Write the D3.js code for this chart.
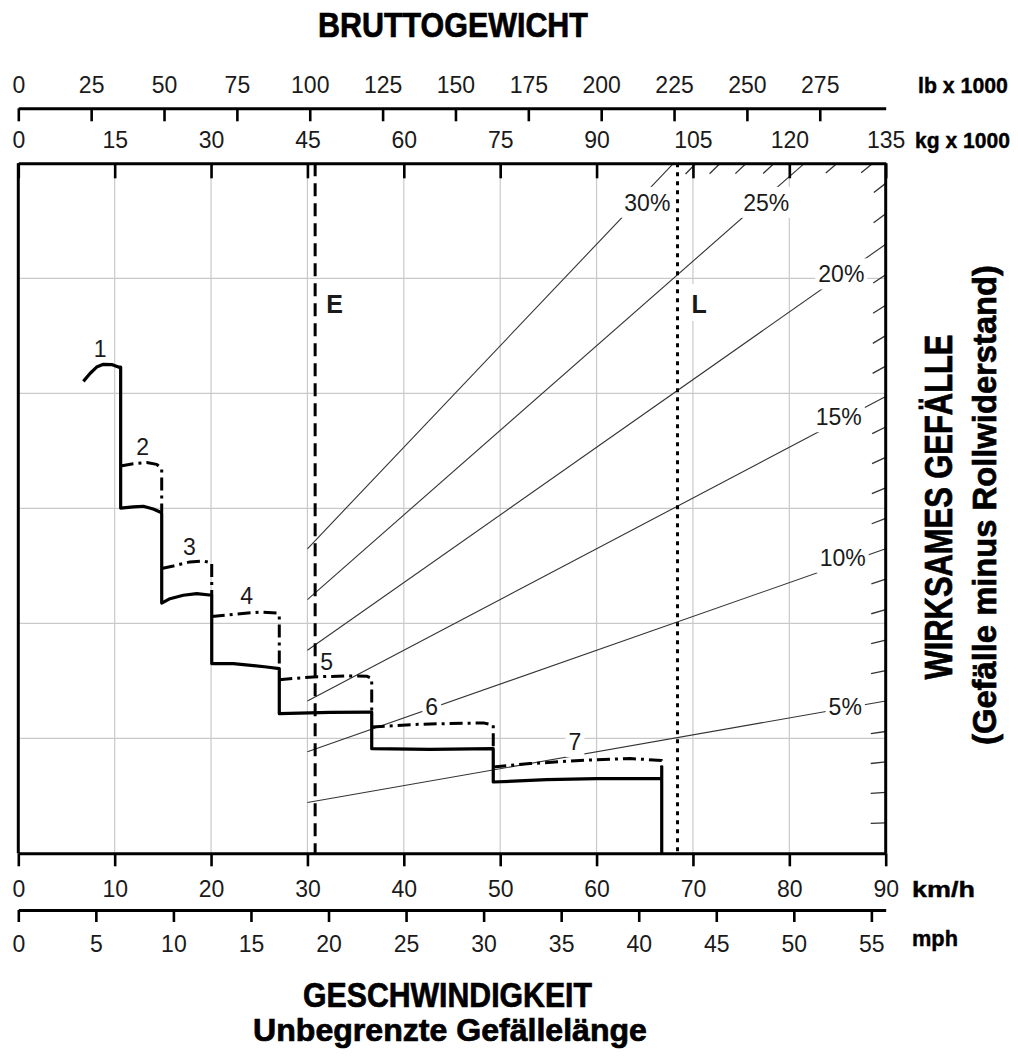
<!DOCTYPE html>
<html>
<head>
<meta charset="utf-8">
<script src="https://cdn.jsdelivr.net/npm/d3@7"></script>
<style>
  html, body { margin: 0; padding: 0; background: #fff; }
  svg { display: block; }
</style>
</head>
<body>
<svg id="chart" width="1018" height="1062"></svg>
<script>
// ---- Axis ticks ----
const lbTicks  = [0, 25, 50, 75, 100, 125, 150, 175, 200, 225, 250, 275];
const kgTicks  = [0, 15, 30, 45, 60, 75, 90, 105, 120, 135];
const kmhTicks = [0, 10, 20, 30, 40, 50, 60, 70, 80, 90];
const mphTicks = [0, 5, 10, 15, 20, 25, 30, 35, 40, 45, 50, 55];

// ---- Grid (speed in km/h, retarding force in kN) ----
const kmhGrid   = [10, 20, 30, 40, 50, 60, 70, 80];
const forceGrid = [50, 100, 150, 200, 250];

// ---- Effective grade lines (%) ----
const gradeLines  = [5, 10, 15, 20, 25, 30];
const hatchGrades = [1, 2, 3, 4, 6, 7, 8, 9, 11, 12, 13, 14, 16, 17, 18, 19, 21, 22, 23, 24, 26, 27, 28, 29];
const gradeStartWeight = 45;            // kg x 1000
// label anchors: [gross weight kg x1000, force kN]
const gradeLabelPos = [[128.7, 63.7], [128.3, 128.3], [127.7, 189.6], [128.1, 251.7], [116.4, 282.8], [97.9, 282.8]];

// ---- Empty / loaded gross weight (kg x 1000) ----
const emptyWeight  = 46.2;
const loadedWeight = 102.6;

// ---- Retarder performance: [km/h, kN] ----
const retardSolid = [
  [6.75, 205.2], [7.44, 208.6], [8.13, 211.4], [8.82, 212.6], [9.69, 212.5], [10.38, 211.4], [10.62, 211.4],
  [10.62, 150.1], [11.93, 150.6], [12.97, 150.9], [14.0, 149.7], [14.70, 148.4], [14.88, 147.9],
  [14.88, 108.8], [15.74, 110.7], [17.12, 112.2], [18.51, 112.9], [20.07, 112.2],
  [20.07, 82.5], [22.31, 82.5], [25.77, 81.0], [27.08, 80.3],
  [27.08, 60.7], [32.34, 61.3], [36.5, 61.4], [36.67, 61.4],
  [36.67, 45.5], [42.7, 45.2], [49.28, 45.5],
  [49.28, 31.0], [54.82, 32.0], [60.0, 32.5], [66.76, 32.5],
  [66.76, 37.5], [66.76, 0]
];
const gear2 = [[10.62, 168.4], [11.93, 169.4], [13.32, 169.9], [14.36, 169.1], [14.88, 167.3], [14.88, 148.4]];
const gear3 = [[14.88, 123.8], [16.08, 124.9], [17.81, 126.7], [19.2, 127.1], [20.07, 126.2], [20.07, 112.2]];
const gear4 = [[20.07, 103.0], [22.31, 103.9], [25.08, 104.9], [26.81, 104.5], [27.08, 103.5], [27.08, 80.3]];
const gear5 = [[27.08, 75.5], [30.61, 76.7], [34.07, 77.1], [36.15, 77.0], [36.67, 76.0], [36.67, 61.4]];
const gear6 = [[36.67, 54.9], [40.99, 56.0], [44.45, 56.4], [48.25, 56.7], [49.28, 55.7], [49.28, 45.5]];
const gear7 = [[49.28, 37.5], [53.09, 39.0], [58.28, 40.4], [63.47, 41.2], [66.76, 40.4], [66.76, 37.5]];
const gearLabels = [[8.48, 219.4, "1"], [12.9, 176.7, "2"], [17.74, 133.2, "3"], [23.7, 111.7, "4"],
                    [32.0, 83.2, "5"], [42.9, 63.6, "6"], [57.76, 48.4, "7"]];

// ---- Constants ----
const KMH_PER_MPH = 1.609344;
const LB_PER_KG = 2.20462;
const G = 9.807;
const FORCE_MAX = 300;

const plot = { left: 18.3, right: 885.7, top: 163.3, bottom: 853.3 };
const numFont = "'Liberation Sans', Arial, Helvetica, sans-serif";
const boldFont = "'Liberation Sans', Arial, Helvetica, sans-serif";

const svg = d3.select("#chart");

const xKmh = d3.scaleLinear().domain([0, 90]).range([plot.left, plot.right]);
const xMph = d3.scaleLinear().domain([0, 90 / KMH_PER_MPH]).range([plot.left, plot.right]);
const xKg  = d3.scaleLinear().domain([0, 135]).range([plot.left, plot.right]);
const xLb  = d3.scaleLinear().domain([0, 135 * LB_PER_KG]).range([plot.left, plot.right]);
const y    = d3.scaleLinear().domain([0, FORCE_MAX]).range([plot.bottom, plot.top]);

// retarding force needed to hold a gross weight on a grade
const force = (w, g) => w * g / 100 * G;
const edgeWeight = g => Math.min(135, FORCE_MAX / (g / 100 * G));

// ---- Grid ----
const grid = svg.append("g").attr("stroke", "#c9c9c9").attr("stroke-width", 1.2);
grid.selectAll("line.v").data(kmhGrid).join("line").attr("class", "v")
  .attr("x1", d => xKmh(d)).attr("x2", d => xKmh(d))
  .attr("y1", plot.top).attr("y2", plot.bottom);
grid.selectAll("line.h").data(forceGrid).join("line").attr("class", "h")
  .attr("x1", plot.left).attr("x2", plot.right)
  .attr("y1", d => y(d)).attr("y2", d => y(d));

// ---- Grade lines ----
const grades = svg.append("g").attr("stroke", "#333").attr("stroke-width", 1.1).attr("fill", "none");
grades.selectAll("line.main").data(gradeLines).join("line").attr("class", "main")
  .attr("x1", xKg(gradeStartWeight)).attr("y1", g => y(force(gradeStartWeight, g)))
  .attr("x2", g => xKg(edgeWeight(g))).attr("y2", g => y(force(edgeWeight(g), g)));

// short hatch marks where the intermediate grades meet the frame
const hatchLen = 15;
grades.selectAll("line.hatch").data(hatchGrades).join("line").attr("class", "hatch")
  .attr("stroke-width", 1.3)
  .each(function (g) {
    const we = edgeWeight(g);
    const px = xKg(we), py = y(force(we, g));
    const ox = xKg(0), oy = y(0);
    const len = Math.hypot(ox - px, oy - py);
    d3.select(this)
      .attr("x1", px).attr("y1", py)
      .attr("x2", px + (ox - px) / len * hatchLen)
      .attr("y2", py + (oy - py) / len * hatchLen);
  });

// ---- Labels with white backing ----
const labels = svg.append("g");
function label(x, yy, text, opts) {
  const o = Object.assign({ size: 23, weight: "normal", anchor: "middle", family: numFont, baseline: "central", padX: 3, padTop: 3, padBottom: 2 }, opts || {});
  const g = labels.append("g");
  const t = g.append("text")
    .attr("x", x).attr("y", yy)
    .attr("text-anchor", o.anchor)
    .attr("dominant-baseline", o.baseline)
    .attr("font-family", o.family)
    .attr("font-size", o.size)
    .attr("font-weight", o.weight)
    .attr("fill", "#1a1a1a")
    .text(text);
  const b = t.node().getBBox();
  g.insert("rect", "text")
    .attr("x", b.x - o.padX).attr("y", b.y - o.padTop)
    .attr("width", b.width + 2 * o.padX).attr("height", b.height + o.padTop + o.padBottom)
    .attr("fill", "#fff");
  return t;
}

gradeLines.forEach((g, i) => {
  const p = gradeLabelPos[i];
  label(xKg(p[0]), y(p[1]), g + "%");
});
gearLabels.forEach(d => label(xKmh(d[0]), y(d[1]), d[2]));
label(xKg(emptyWeight) + 11, y(234.9), "E", { anchor: "start", baseline: "auto", weight: "bold", size: 25, padTop: 6, padBottom: 3 });
label(xKg(loadedWeight) + 14, y(234.9), "L", { anchor: "start", baseline: "auto", weight: "bold", size: 25, padTop: 6, padBottom: 3 });

// ---- Empty (dashed) and loaded (dotted) weight lines ----
svg.append("line")
  .attr("x1", xKg(emptyWeight)).attr("x2", xKg(emptyWeight))
  .attr("y1", plot.top).attr("y2", plot.bottom)
  .attr("stroke", "#000").attr("stroke-width", 3).attr("stroke-dasharray", "13,7");
svg.append("line")
  .attr("x1", xKg(loadedWeight)).attr("x2", xKg(loadedWeight))
  .attr("y1", plot.top).attr("y2", plot.bottom)
  .attr("stroke", "#000").attr("stroke-width", 3).attr("stroke-dasharray", "4,5");

// ---- Retarder curves ----
const line = d3.line().x(d => xKmh(d[0])).y(d => y(d[1]));
const curves = svg.append("g").attr("fill", "none").attr("stroke", "#000")
  .attr("stroke-width", 3).attr("stroke-linejoin", "round");
curves.selectAll("path.dd").data([gear2, gear3, gear4, gear5, gear6, gear7]).join("path")
  .attr("class", "dd").attr("d", line).attr("stroke-dasharray", "13,5,3,5");
curves.append("path").datum(retardSolid).attr("d", line).attr("stroke-width", 3.2);

// ---- Frame ----
svg.append("g").attr("stroke", "#000").attr("stroke-width", 3)
  .selectAll("line").data([plot.left, plot.right]).join("line")
  .attr("x1", d => d).attr("x2", d => d).attr("y1", plot.top).attr("y2", plot.bottom);

// ---- Axes ----
function styleAxis(sel) {
  sel.attr("font-family", numFont).attr("font-size", 23);
  sel.select(".domain").attr("stroke", "#000").attr("stroke-width", 3);
  sel.selectAll(".tick line").attr("stroke", "#000").attr("stroke-width", 2.6);
  sel.selectAll(".tick text").attr("fill", "#1a1a1a");
}
svg.append("g").attr("transform", "translate(0,108.3)")
  .call(d3.axisTop(xLb).tickValues(lbTicks).tickSizeInner(-13).tickSizeOuter(0).tickPadding(15))
  .call(styleAxis);
svg.append("g").attr("transform", `translate(0,${plot.top})`)
  .call(d3.axisTop(xKg).tickValues(kgTicks).tickSizeInner(-15).tickSizeOuter(0).tickPadding(15))
  .call(styleAxis);
svg.append("g").attr("transform", `translate(0,${plot.bottom})`)
  .call(d3.axisBottom(xKmh).tickValues(kmhTicks).tickSizeInner(13).tickSizeOuter(0).tickPadding(14))
  .call(styleAxis);
svg.append("g").attr("transform", "translate(0,910)")
  .call(d3.axisBottom(xMph).tickValues(mphTicks).tickSizeInner(12).tickSizeOuter(0).tickPadding(14))
  .call(styleAxis);

// ---- Unit labels and titles (bold, horizontally condensed to a set width) ----
function condensed(sel) {
  sel.each(function (d) {
    const t = d3.select(this);
    const natural = this.getComputedTextLength();
    const sx = d.w / natural;
    t.attr("transform", `translate(${d.x},${d.y})${d.rot ? " rotate(-90)" : ""} scale(${sx},1)`);
  });
}
const units = [
  { x: 918, y: 93, t: "lb x 1000", w: 90 },
  { x: 915, y: 148, t: "kg x 1000", w: 95 },
  { x: 912, y: 896.5, t: "km/h", w: 63 },
  { x: 912, y: 946, t: "mph", w: 46 }
];
svg.append("g").selectAll("text").data(units).join("text")
  .attr("font-family", boldFont).attr("font-weight", "bold").attr("font-size", 22)
  .attr("fill", "#000").attr("stroke", "#000").attr("stroke-width", 0.4)
  .text(d => d.t)
  .call(condensed);

const titles = [
  { x: 453, y: 37, t: "BRUTTOGEWICHT", w: 270, size: 34.5, rot: false },
  { x: 447.5, y: 1007, t: "GESCHWINDIGKEIT", w: 289, size: 35, rot: false },
  { x: 450, y: 1041, t: "Unbegrenzte Gefällelänge", w: 394, size: 31, rot: false },
  { x: 952, y: 507, t: "WIRKSAMES GEFÄLLE", w: 345, size: 38, rot: true },
  { x: 996, y: 505, t: "(Gefälle minus Rollwiderstand)", w: 480, size: 34, rot: true }
];
svg.append("g").selectAll("text").data(titles).join("text")
  .attr("text-anchor", "middle")
  .attr("font-family", boldFont).attr("font-weight", "bold").attr("font-size", d => d.size)
  .attr("fill", "#000").attr("stroke", "#000").attr("stroke-width", 0.7)
  .text(d => d.t)
  .call(condensed);
</script>
</body>
</html>
